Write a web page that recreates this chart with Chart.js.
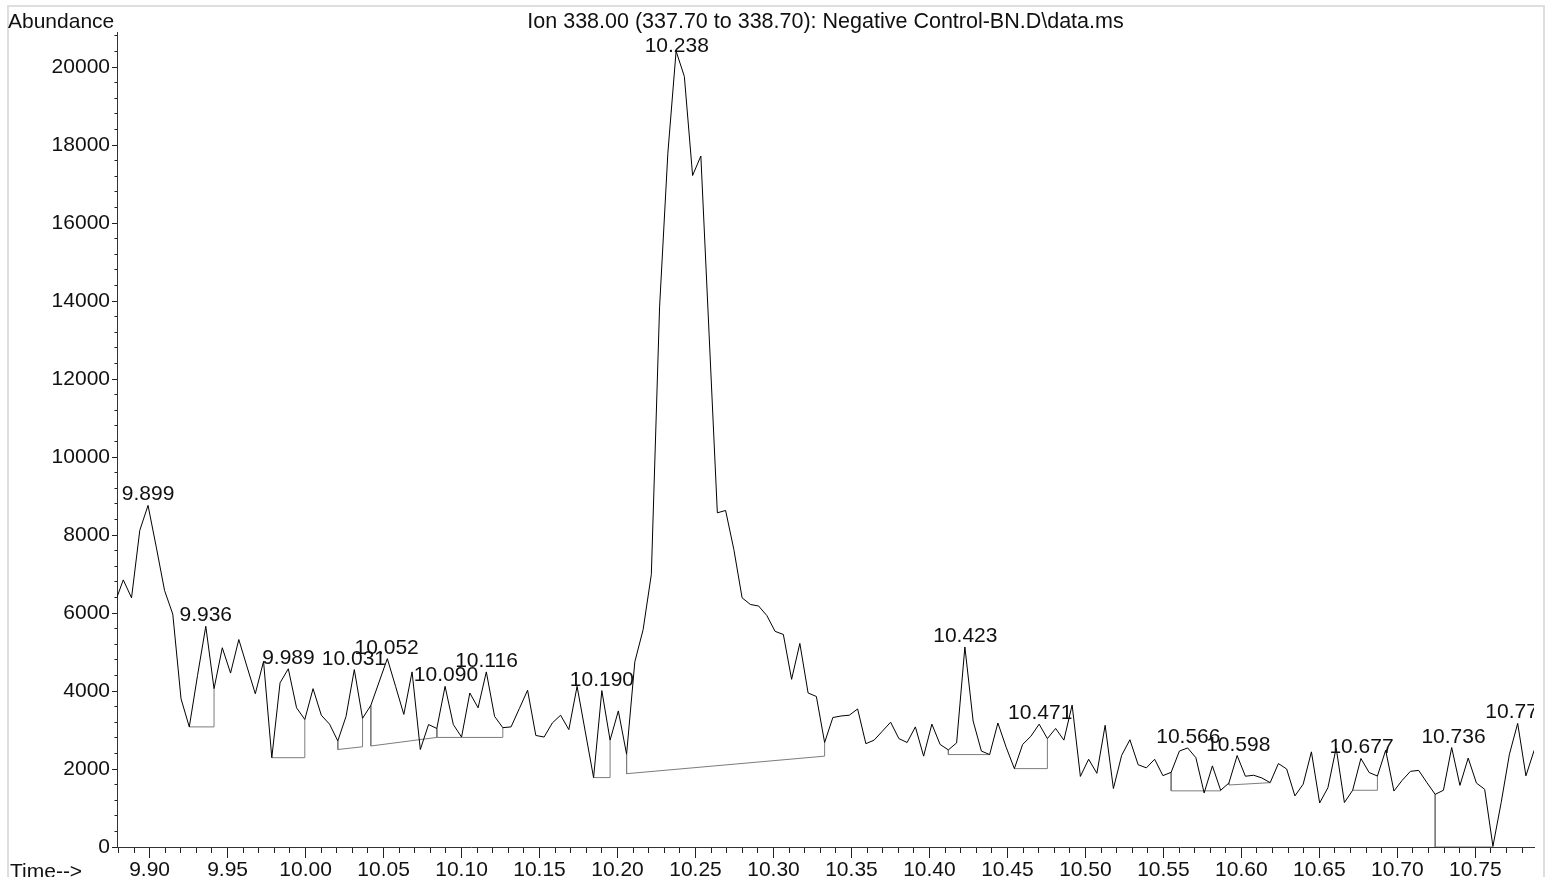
<!DOCTYPE html>
<html>
<head>
<meta charset="utf-8">
<title>Ion 338.00 - Negative Control-BN</title>
<script src="https://cdn.jsdelivr.net/npm/chart.js@4.4.1/dist/chart.umd.min.js"></script>
<style>
  html, body { margin: 0; padding: 0; background: #fff; overflow: hidden; }
  canvas { display: block; }
</style>
</head>
<body>
<canvas id="ionChart" width="1551" height="877"></canvas>
<script>
// Extracted ion chromatogram, m/z 338.00 (337.70 - 338.70)

const chartTitle = 'Ion 338.00 (337.70 to 338.70): Negative Control-BN.D\\data.ms';
const yCaption = 'Abundance';
const xCaption = 'Time-->';

// scan grid (minutes)
const firstScanTime = 9.87784;
const scanInterval = 0.00529;

// abundance per scan
const abundance = [
    6270, 6850, 6390, 8120, 8760, 7690, 6580, 5970, 3800, 3080,
    4400, 5660, 4060, 5110, 4460, 5320, 4620, 3930, 4760, 2290,
    4210, 4570, 3570, 3270, 4060, 3380, 3150, 2720, 3350, 4550,
    3300, 3630, 4230, 4830, 4120, 3400, 4490, 2500, 3140, 3040,
    4120, 3140, 2820, 3950, 3570, 4490, 3350, 3060, 3080, 3550,
    4020, 2860, 2820, 3180, 3380, 3010, 4120, 2950, 1780, 4010,
    2740, 3490, 2380, 4750, 5570, 6990, 13850, 17790, 20410, 19760,
    17220, 17720, 13150, 8570, 8630, 7630, 6390, 6220, 6180, 5935,
    5530, 5450, 4300, 5220, 3950, 3860, 2680, 3320, 3360, 3380,
    3540, 2650, 2740, 2970, 3200, 2780, 2680, 3080, 2330, 3150,
    2630, 2490, 2670, 5130, 3230, 2460, 2370, 3180, 2560, 2010,
    2630, 2840, 3150, 2780, 3040, 2740, 3640, 1810, 2250, 1890,
    3120, 1500, 2350, 2750, 2110, 2030, 2250, 1830, 1915, 2460,
    2540, 2290, 1385, 2080, 1455, 1640, 2345, 1815, 1840, 1770,
    1650, 2140, 2000, 1310, 1610, 2440, 1130, 1520, 2540, 1140,
    1455, 2270, 1910, 1820, 2480, 1435, 1710, 1940, 1965, 1650,
    1350, 1455, 2550, 1580, 2280, 1640, 1480, 20, 1140, 2380,
    3170, 1825, 2480
];

// integrated peaks: retention time as printed
const peakTimes = ['9.899', '9.936', '9.989', '10.031', '10.052', '10.090', '10.116',
    '10.190', '10.238', '10.423', '10.471', '10.566', '10.598', '10.677', '10.736', '10.777'];

// integration baselines: [start scan, start level, end scan, end level]
const baselines = [
    [9, 3080, 12, 3080],
    [19, 2290, 23, 2290],
    [27, 2500, 30, 2570],
    [31, 2590, 39, 2810],
    [39, 2810, 47, 2810],
    [58, 1780, 60, 1780],
    [62, 1880, 86, 2330],
    [101, 2370, 106, 2370],
    [109, 2010, 113, 2010],
    [128, 1440, 134, 1440],
    [135, 1590, 140, 1650],
    [150, 1455, 153, 1455],
    [160, 0, 167, 0]
];

// axes
const timeMin = 9.8791, timeMax = 10.7876;
const timeMajor = 0.05, timeMinor = 0.01;
const abundMax = 20900;
const abundMajor = 2000, abundMinor = 400;

const FONT = '"Liberation Sans", Arial, sans-serif';

const times = abundance.map((_, i) => firstScanTime + i * scanInterval);
const trace = abundance.map((v, i) => ({ x: times[i], y: v }));

// drop line -> baseline -> drop line, gap between peaks
const baselinePts = [];
baselines.forEach(([a, la, b, lb]) => {
    baselinePts.push(
        { x: times[a], y: abundance[a] },
        { x: times[a], y: la },
        { x: times[b], y: lb },
        { x: times[b], y: abundance[b] },
        { x: times[b], y: null }
    );
});

function isMajor(v, major, minor) {
    return Math.round(v / minor) % Math.round(major / minor) === 0;
}

// every minor step inside [min, max]
function stepTicks(min, max, step) {
    const out = [];
    for (let n = Math.ceil(min / step - 1e-9); n * step <= max + 1e-9; n++) {
        out.push({ value: Math.round(n * step * 1000) / 1000 });
    }
    return out;
}

const chromPlugin = {
    id: 'chromDecor',
    beforeDraw(chart) {
        const ctx = chart.ctx;
        ctx.save();
        ctx.fillStyle = '#fff';
        ctx.fillRect(0, 0, chart.width, chart.height);
        ctx.strokeStyle = '#dedede';
        ctx.lineWidth = 2;
        ctx.strokeRect(8, 6, 1536, chart.height + 20);
        ctx.restore();
    },
    afterDatasetsDraw(chart) {
        const ctx = chart.ctx;
        const area = chart.chartArea;
        const xs = chart.scales.x, ys = chart.scales.y;

        ctx.save();
        ctx.fillStyle = '#111';
        ctx.textBaseline = 'alphabetic';

        ctx.font = '21px ' + FONT;
        ctx.textAlign = 'left';
        ctx.fillText(yCaption, 8, 28);

        ctx.font = '21.5px ' + FONT;
        ctx.textAlign = 'center';
        ctx.fillText(chartTitle, (area.left + area.right) / 2, 28);

        // retention time labels above each apex, cut at the right edge
        ctx.font = '21px ' + FONT;
        ctx.beginPath();
        ctx.rect(0, 0, area.right, chart.height);
        ctx.clip();
        peakTimes.forEach(rt => {
            const t = parseFloat(rt);
            const i = Math.round((t - firstScanTime) / scanInterval);
            const px = xs.getPixelForValue(t);
            const py = ys.getPixelForValue(abundance[i]);
            const base = Math.max(py - 5, area.top + 20);
            ctx.fillText(rt, px, base);
        });
        ctx.restore();

        ctx.save();
        ctx.fillStyle = '#111';
        ctx.font = '21px ' + FONT;
        ctx.textAlign = 'left';
        ctx.textBaseline = 'top';
        ctx.fillText(xCaption, 10, 862);
        ctx.restore();
    }
};

new Chart(document.getElementById('ionChart'), {
    type: 'line',
    data: {
        datasets: [
            {
                data: baselinePts,
                borderColor: '#7c7c7c',
                borderWidth: 1,
                pointRadius: 0,
                spanGaps: false,
                tension: 0,
                order: 2
            },
            {
                data: trace,
                borderColor: '#000',
                borderWidth: 1,
                pointRadius: 0,
                tension: 0,
                order: 1
            }
        ]
    },
    options: {
        responsive: false,
        animation: false,
        devicePixelRatio: 1,
        layout: { padding: { top: 32, right: 17, left: 0, bottom: 0 } },
        plugins: {
            legend: { display: false },
            tooltip: { enabled: false },
            title: { display: false }
        },
        scales: {
            x: {
                type: 'linear',
                min: timeMin,
                max: timeMax,
                afterFit: s => { s.height = 30; },
                afterBuildTicks: s => { s.ticks = stepTicks(timeMin, timeMax, timeMinor); },
                border: { display: true, color: '#333', width: 1 },
                grid: {
                    drawOnChartArea: false,
                    drawTicks: true,
                    tickLength: 11,
                    tickColor: '#222',
                    tickBorderDash: c => isMajor(c.tick.value, timeMajor, timeMinor) ? [] : [5, 20]
                },
                ticks: {
                    autoSkip: false,
                    maxRotation: 0,
                    minRotation: 0,
                    padding: 0,
                    color: '#111',
                    font: { family: FONT, size: 21 },
                    callback: v => isMajor(v, timeMajor, timeMinor) ? v.toFixed(2) : ''
                }
            },
            y: {
                type: 'linear',
                min: 0,
                max: abundMax,
                afterFit: s => { s.width = 117; },
                afterBuildTicks: s => { s.ticks = stepTicks(0, abundMax, abundMinor); },
                border: { display: true, color: '#333', width: 1 },
                grid: {
                    drawOnChartArea: false,
                    drawTicks: true,
                    tickLength: 5,
                    tickColor: '#222',
                    tickBorderDash: c => isMajor(c.tick.value, abundMajor, abundMinor) ? [] : [2.5, 10],
                    tickBorderDashOffset: c => isMajor(c.tick.value, abundMajor, abundMinor) ? 0 : 10
                },
                ticks: {
                    autoSkip: false,
                    padding: 2,
                    color: '#111',
                    font: { family: FONT, size: 21 },
                    callback: v => isMajor(v, abundMajor, abundMinor) ? String(Math.round(v)) : ''
                }
            }
        }
    },
    plugins: [chromPlugin]
});
</script>
</body>
</html>
